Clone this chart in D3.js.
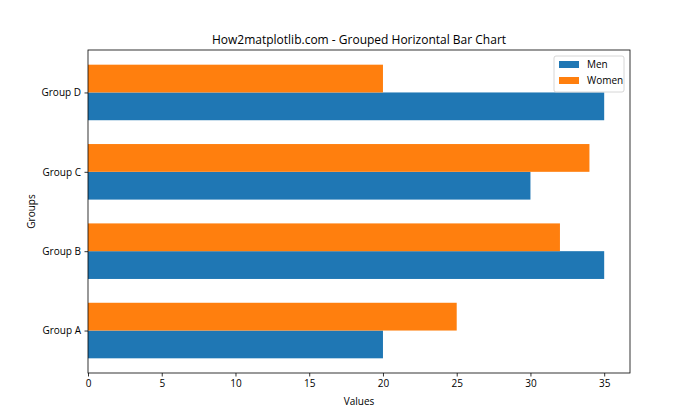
<!DOCTYPE html>
<html><head><meta charset="utf-8">
<script src="https://cdn.jsdelivr.net/npm/d3@7"></script>
<style>body{margin:0;background:#fff}svg{display:block;font-family:"Open Sans","Noto Sans",sans-serif}</style>
</head><body><svg id="c" width="700" height="420"></svg>
<script>
const categories = ["Group A","Group B","Group C","Group D"];
const menValues = [20,35,30,35];
const womenValues = [25,32,34,20];
const seriesNames = ["Men","Women"];
const xTicks = [0,5,10,15,20,25,30,35];

const svg = d3.select("#c");
const L=88,R=630,T=50,B=373;
const barH=0.35;
const x = d3.scaleLinear().domain([0,36.75]).range([L,R]);
const y = d3.scaleLinear().domain([-0.535,3.535]).range([B,T]);
const colors = ["#1f77b4","#ff7f0e"];

const g = svg.append("g");
categories.forEach((c,i)=>{
  g.append("rect").attr("x",x(0)).attr("width",x(menValues[i])-x(0))
   .attr("y",y(i)).attr("height",y(i-barH)-y(i)).attr("fill",colors[0]);
  g.append("rect").attr("x",x(0)).attr("width",x(womenValues[i])-x(0))
   .attr("y",y(i+barH)).attr("height",y(i)-y(i+barH)).attr("fill",colors[1]);
});

svg.append("rect").attr("x",L).attr("y",T).attr("width",R-L).attr("height",B-T)
  .attr("fill","none").attr("stroke","#000").attr("stroke-width",0.8);

const xa = svg.append("g").attr("transform",`translate(0,${B})`)
  .call(d3.axisBottom(x).tickValues(xTicks).tickSize(3.5).tickPadding(3.5).tickFormat(d3.format("d")));
xa.select(".domain").remove();
xa.selectAll("text").attr("font-size",10).attr("fill","#000").attr("font-family","Open Sans, Noto Sans, sans-serif");
xa.selectAll("line").attr("stroke","#000").attr("stroke-width",0.8);

const yScaleBand = d3.scaleOrdinal().domain(categories).range(categories.map((c,i)=>y(i)));
const ya = svg.append("g").attr("transform",`translate(${L},0)`)
  .call(d3.axisLeft(yScaleBand).tickSize(3.5).tickPadding(3.5));
ya.select(".domain").remove();
ya.selectAll("text").attr("font-size",10).attr("fill","#000").attr("font-family","Open Sans, Noto Sans, sans-serif");
ya.selectAll("line").attr("stroke","#000").attr("stroke-width",0.8);

svg.append("text").attr("x",(L+R)/2).attr("y",44).attr("text-anchor","middle")
  .attr("font-size",12).text("How2matplotlib.com - Grouped Horizontal Bar Chart");
svg.append("text").attr("x",(L+R)/2).attr("y",405).attr("text-anchor","middle")
  .attr("font-size",10).text("Values");
svg.append("text").attr("transform",`translate(35,${(T+B)/2}) rotate(-90)`).attr("text-anchor","middle")
  .attr("font-size",10).text("Groups");

const lg = svg.append("g");
lg.append("rect").attr("x",554).attr("y",56).attr("width",70).attr("height",36).attr("rx",2)
  .attr("fill","#fff").attr("fill-opacity",0.8).attr("stroke","#ccc").attr("stroke-width",0.8);
seriesNames.forEach((n,i)=>{
  lg.append("rect").attr("x",559).attr("y",61+i*16).attr("width",20).attr("height",7).attr("fill",colors[i]);
  lg.append("text").attr("x",587).attr("y",68+i*16).attr("font-size",10).text(n);
});
</script></body></html>
